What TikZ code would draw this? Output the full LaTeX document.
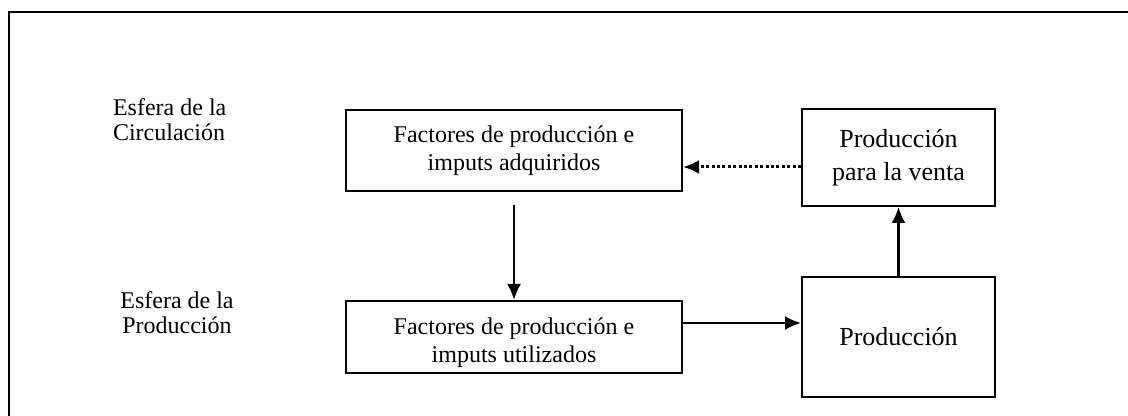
\documentclass[tikz,border=0pt]{standalone}
\usepackage{fontspec}
\setmainfont{Liberation Serif}
\usetikzlibrary{arrows.meta,positioning,calc}
\tikzset{>={Latex[length=8pt,width=7pt]}}
\tikzset{
    caja/.style={draw,line width=1pt,inner sep=0pt,align=center,font=\fontsize{12}{14}\selectfont},
    cajag/.style={caja,font=\fontsize{13}{16.5}\selectfont},
    esfera/.style={align=center,font=\fontsize{12}{12.5}\selectfont},
    flecha/.style={->,line width=1.2pt}
}

\begin{document}
\begin{tikzpicture}[x=0.5pt,y=-0.5pt]

        \useasboundingbox (0,0) rectangle (1128,416);

        % marco
        \draw[line width=1.1pt] (9,416) -- (9,12) -- (1128,12);

        % esferas
        \node[esfera,align=left,anchor=west] (circ) at (106,120) {Esfera de la\\Circulaci\'on};
        \node[esfera] (prod) at (177,313) {Esfera de la\\Producci\'on};

        % cajas
        \node[caja,minimum width=168pt,minimum height=40.5pt] (adq) at (514,150.5)
            {Factores de producci\'on e\\imputs adquiridos};
        \node[cajag,minimum width=96.5pt,minimum height=48.5pt] (venta) at (898.5,157.5)
            {Producci\'on\\para la venta};
        \node[caja,minimum width=168pt,minimum height=36pt,
              label={[caja,draw=none,yshift=-3pt]center:{Factores de producci\'on e\\imputs utilizados}}]
              (util) at (514,337) {};
        \node[cajag,minimum width=96.5pt,minimum height=60pt] (prodbox) at (898.5,337) {Producci\'on};

        % flechas
        \draw[flecha,shorten <=6.5pt] (adq) -- (util);
        \draw[flecha] ([yshift=7pt]util.east) -- ([yshift=7pt]util.east -| prodbox.west);
        \draw[flecha] (prodbox) -- (venta);
        \draw[flecha,line width=1.5pt,dash pattern=on 1.5pt off 1.2pt] ([yshift=-8.25pt]adq.east -| venta.west) -- ([yshift=-8.25pt]adq.east);

\end{tikzpicture}
\end{document}
